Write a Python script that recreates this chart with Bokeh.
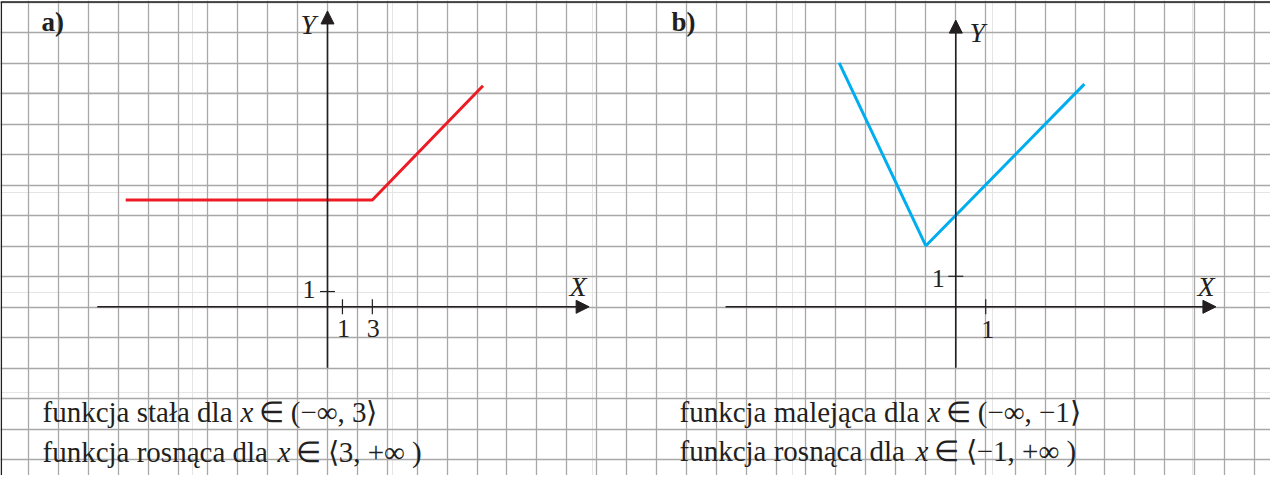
from math import pi
from bokeh.plotting import figure
from bokeh.models import Range1d, Grid, FixedTicker, Arrow, NormalHead
from bokeh.core.properties import value
from bokeh.embed import file_html
from bokeh.resources import INLINE

# ---------------- data ----------------
# panel a) : constant then increasing
A_X = [-13.5, 3, 10.4]
A_Y = [7, 7, 14.5]
A_XTICKS = [1, 3]
A_YTICKS = [1]
# panel b) : decreasing then increasing
B_X = [-3.9, -1, 4.3]
B_Y = [8, 2, 7.3]
B_XTICKS = [1]
B_YTICKS = [1]

A_TEXT = [("funkcja stała dla", "x", "∈ (−∞, 3⟩"),
          ("funkcja rosnąca dla", "x", "∈ ⟨3, +∞ )")]
B_TEXT = [("funkcja malejąca dla", "x", "∈ (−∞, −1⟩"),
          ("funkcja rosnąca dla", "x", "∈ ⟨−1, +∞ )")]

# ---------------- layout ----------------
W, H = 1270, 475
X0, Y0 = 8, 8                      # page margin
INK = "#231f20"
SERIF = "Liberation Serif"
TY = -8                            # text baseline correction (px)

p = figure(width=W, height=H, output_backend="svg", toolbar_location=None,
           x_range=Range1d(X0, X0 + W), y_range=Range1d(Y0 + H, Y0),
           x_axis_location=None, y_axis_location=None, min_border=0)
p.outline_line_color = None
p.background_fill_color = "white"
p.border_fill_color = "white"

# grid paper
CELL_W, CELL_H = 29.9, 30.5
GX0, GY0 = 6.1, 9.5
xt = [GX0 + CELL_W * k for k in range(0, 44)]
yt = [GY0 + CELL_H * k for k in range(0, 17)]
p.add_layout(Grid(dimension=0, ticker=FixedTicker(ticks=xt, minor_ticks=[]),
                  grid_line_color="#a8a8a8", grid_line_width=1.3))
p.add_layout(Grid(dimension=1, ticker=FixedTicker(ticks=yt, minor_ticks=[]),
                  grid_line_color="#a8a8a8", grid_line_width=1.3))

# frame (top and left borders)
p.line([X0 + 0.8, X0 + 0.8], [Y0 + H, GY0], line_color=INK, line_width=1.5)
p.line([X0, X0 + W], [GY0, GY0], line_color=INK, line_width=1.5)

# panel coordinate systems
p.extra_x_ranges = {}
p.extra_y_ranges = {}

def add_ranges(name, ox, oy, ux, uy):
    p.extra_x_ranges[name] = Range1d((X0 - ox) / ux, (X0 + W - ox) / ux)
    p.extra_y_ranges[name] = Range1d((oy - (Y0 + H)) / uy, (oy - Y0) / uy)

add_ranges("a", 335.0, 314.3, CELL_W / 2, CELL_H / 2)
add_ranges("b", 963.3, 314.3, CELL_W, CELL_H)

def axes(name, xa, ya):
    for (xs, ys, xe, ye) in [(xa[0], 0, xa[1], 0), (0, ya[0], 0, ya[1])]:
        p.add_layout(Arrow(x_start=xs, y_start=ys, x_end=xe, y_end=ye,
                           line_color=INK, line_width=1.6,
                           end=NormalHead(size=13, fill_color=INK, line_color=INK, line_width=1),
                           x_range_name=name, y_range_name=name))

axes("a", (-15.4, 17.5), (-4.0, 19.4))
axes("b", (-7.7, 8.7), (-2.0, 9.4))

def ticks(name, xticks, yticks, xl_off, yl_off):
    p.scatter(xticks, [0] * len(xticks), marker="dash", angle=pi / 2, size=15,
              line_color=INK, line_width=1.2, x_range_name=name, y_range_name=name)
    p.scatter([0] * len(yticks), yticks, marker="dash", size=15,
              line_color=INK, line_width=1.2, x_range_name=name, y_range_name=name)
    p.text(xticks, [0] * len(xticks), text=[str(v) for v in xticks],
           x_offset=xl_off[0], y_offset=xl_off[1] + TY,
           text_align="center", text_baseline="alphabetic",
           text_font=value(SERIF), text_font_size="26px", text_color=INK,
           x_range_name=name, y_range_name=name)
    p.text([0] * len(yticks), yticks, text=[str(v) for v in yticks],
           x_offset=yl_off[0], y_offset=yl_off[1] + TY,
           text_align="right", text_baseline="alphabetic",
           text_font=value(SERIF), text_font_size="26px", text_color=INK,
           x_range_name=name, y_range_name=name)

ticks("a", A_XTICKS, A_YTICKS, (1, 30), (-12, 6))
ticks("b", B_XTICKS, B_YTICKS, (2, 31), (-11, 10))

# function graphs
p.line(A_X, A_Y, line_color="#ed1c24", line_width=3, x_range_name="a", y_range_name="a")
p.line(B_X, B_Y, line_color="#00aeef", line_width=3, x_range_name="b", y_range_name="b")

# axis names
p.text([577, 308, 1205, 977], [301.5 + TY, 40 + TY, 301.5 + TY, 48 + TY],
       text=["X", "Y", "X", "Y"],
       text_font=value(SERIF), text_font_style="italic", text_font_size="28px",
       text_color=INK, text_baseline="alphabetic")
# panel names
p.text([49, 679], [37.5 + TY, 37.5 + TY], text=["a)", "b)"],
       text_font=value(SERIF), text_font_style="bold", text_font_size="27px",
       text_color=INK, text_baseline="alphabetic")

# descriptions
def desc(lines, xs, baselines):
    for (pre, var, suf), (x1, x2, x3), yb in zip(lines, xs, baselines):
        yb = yb + TY
        p.text([x1, x3], [yb, yb], text=[pre, suf], text_font=value(SERIF),
               text_font_size="29px", text_color=INK, text_baseline="alphabetic")
        p.text([x2], [yb], text=[var], text_font=value(SERIF), text_font_style="italic",
               text_font_size="29px", text_color=INK, text_baseline="alphabetic")

desc(A_TEXT, [(50, 248, 266), (50, 285, 303)], [427, 467])
desc(B_TEXT, [(687, 935, 953), (687, 923, 941)], [427, 466])

open("out.html", "w").write(file_html(p, INLINE))
